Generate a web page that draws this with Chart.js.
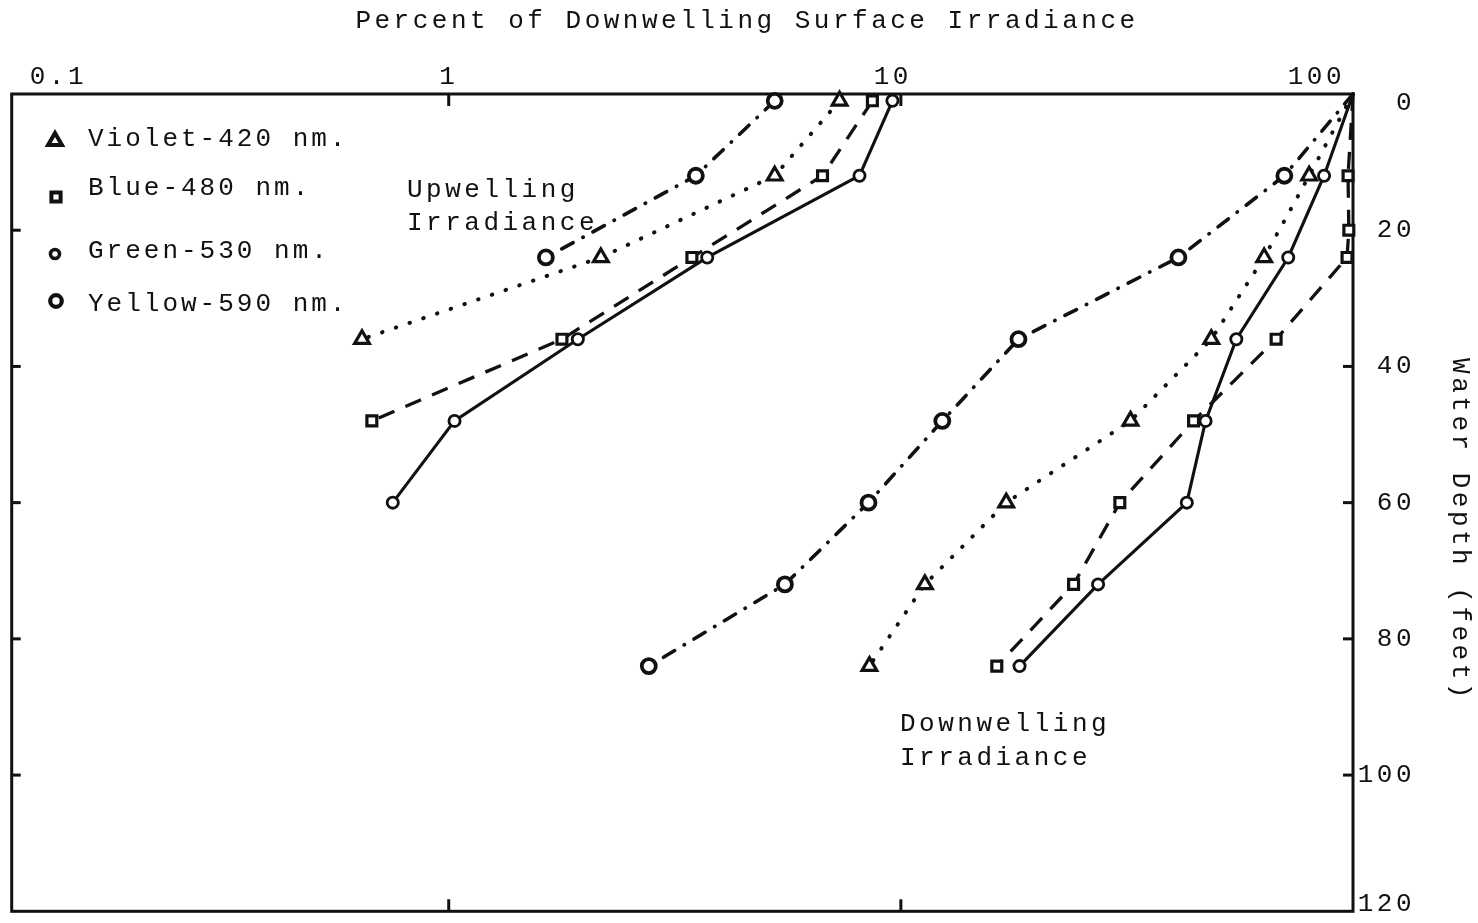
<!DOCTYPE html>
<html><head><meta charset="utf-8">
<script src="https://cdn.jsdelivr.net/npm/chart.js@4/dist/chart.umd.min.js"></script>
<style>html,body{margin:0;padding:0;background:#fff;overflow:hidden}#wrap{width:1478px;height:923px;position:relative}</style>
</head><body><div id="wrap"><canvas id="c" width="1478" height="923"></canvas></div>
<script>
// ---- data (percent of downwelling surface irradiance vs water depth in feet) ----
const upGreenDepths  = [1, 12, 24, 36, 48, 60];
const upGreen        = [9.58, 8.10, 3.73, 1.93, 1.03, 0.752];
const upBlueDepths   = [1, 12, 24, 36, 48];
const upBlue         = [8.65, 6.71, 3.45, 1.78, 0.676];
const upVioletDepths = [1, 12, 24, 36];
const upViolet       = [7.32, 5.26, 2.17, 0.643];
const upYellowDepths = [1, 12, 24];
const upYellow       = [5.26, 3.52, 1.64];

const downDepths     = [0, 12, 24, 36, 48, 60, 72, 84];
const downGreen      = [100, 86.3, 71.9, 55.2, 47.2, 42.9, 27.3, 18.3];
const downBlueDepths = [0, 12, 20, 24, 36, 48, 60, 72, 84];
const downBlue       = [100, 97.5, 97.9, 97.0, 67.6, 44.4, 30.5, 24.1, 16.3];
const downViolet     = [100, 80.0, 63.6, 48.6, 32.2, 17.1, 11.3, 8.52];
const downYellow     = [100, 70.5, 41.1, 18.2, 12.35, 8.48, 5.54, 2.77];

const xTickValues = [0.1, 1, 10, 100];
const xTickLabels = ['0.1', '1', '10', '100'];
const yTickValues = [0, 20, 40, 60, 80, 100, 120];
const legendLabels = ['Violet-420 nm.', 'Blue-480 nm.', 'Green-530 nm.', 'Yellow-590 nm.'];
const titleText = 'Percent of Downwelling Surface Irradiance';
const yTitleText = 'Water Depth (feet)';
const upNote = ['Upwelling', 'Irradiance'];
const downNote = ['Downwelling', 'Irradiance'];

// ---- styles ----
const INK = '#111';
const FONT = '26px "Liberation Mono", "DejaVu Sans Mono", monospace';
const styles = {
  violet: {pointStyle: 'triangle', r: 8.5, pbw: 3.2, dash: [0.5, 14], cap: 'round', bw: 4},
  blue:   {pointStyle: 'rect', r: 7, pbw: 3.2, dash: [17, 12], cap: 'butt', bw: 3.3},
  green:  {pointStyle: 'circle', r: 5.6, pbw: 2.8, dash: [], cap: 'butt', bw: 3.1},
  yellow: {pointStyle: 'circle', r: 7, pbw: 3.8, dash: [13, 11, 0.5, 11], cap: 'round', bw: 3.6}
};

function series(depths, values, s) {
  return {
    data: values.map((v, i) => ({x: v, y: depths[i]})),
    showLine: true,
    borderColor: INK,
    borderWidth: s.bw,
    borderDash: s.dash,
    borderCapStyle: s.cap,
    tension: 0,
    pointStyle: s.pointStyle,
    pointRadius: ctx => (ctx.raw && ctx.raw.x >= 100) ? 0 : s.r,
    pointBorderWidth: s.pbw,
    pointBorderColor: INK,
    pointBackgroundColor: '#fff',
    clip: false
  };
}

const datasets = [
  series(downDepths, downGreen, styles.green),
  series(downBlueDepths, downBlue, styles.blue),
  series(downDepths, downViolet, styles.violet),
  series(downDepths, downYellow, styles.yellow),
  series(upGreenDepths, upGreen, styles.green),
  series(upBlueDepths, upBlue, styles.blue),
  series(upVioletDepths, upViolet, styles.violet),
  series(upYellowDepths, upYellow, styles.yellow)
];

function txt(ctx, s, x, y, align) {
  ctx.textAlign = align || 'left';
  ctx.fillText(s, x, y);
}

function drawMarker(ctx, style, r, bw, x, y) {
  ctx.save();
  ctx.lineWidth = bw; ctx.strokeStyle = INK; ctx.fillStyle = '#fff';
  if (Chart.helpers && Chart.helpers.drawPoint) {
    Chart.helpers.drawPoint(ctx, {pointStyle: style, rotation: 0, borderWidth: bw, radius: r}, x, y);
  } else {
    ctx.beginPath(); ctx.arc(x, y, r, 0, Math.PI * 2); ctx.fill(); ctx.stroke();
  }
  ctx.restore();
}

const framePlugin = {
  id: 'frame',
  beforeDatasetsDraw(chart) {
    const {ctx, chartArea: a, scales} = chart;
    const xs = scales.x, ys = scales.y;
    ctx.save();
    ctx.strokeStyle = INK; ctx.lineWidth = 3; ctx.lineJoin = 'miter';
    ctx.strokeRect(a.left, a.top, a.right - a.left, a.bottom - a.top);
    ctx.lineWidth = 3;
    xTickValues.forEach(v => {
      if (v <= xs.min || v >= xs.max) return;
      const px = xs.getPixelForValue(v);
      ctx.beginPath(); ctx.moveTo(px, a.top); ctx.lineTo(px, a.top + 12); ctx.stroke();
      ctx.beginPath(); ctx.moveTo(px, a.bottom); ctx.lineTo(px, a.bottom - 12); ctx.stroke();
    });
    yTickValues.forEach(v => {
      if (v <= ys.min || v >= ys.max) return;
      const py = ys.getPixelForValue(v);
      ctx.beginPath(); ctx.moveTo(a.left, py); ctx.lineTo(a.left + 9, py); ctx.stroke();
      ctx.beginPath(); ctx.moveTo(a.right, py); ctx.lineTo(a.right - 10, py); ctx.stroke();
    });
    ctx.restore();
  },
  afterDraw(chart) {
    const {ctx, chartArea: a, scales} = chart;
    const xs = scales.x, ys = scales.y;
    ctx.save();
    ctx.fillStyle = INK;
    ctx.font = FONT;
    if ('letterSpacing' in ctx) ctx.letterSpacing = '3.5px';
    ctx.textBaseline = 'middle';
    txt(ctx, titleText, 747, 21, 'center');
    xTickValues.forEach((v, i) => {
      const lab = xTickLabels[i];
      if (i === 0) txt(ctx, lab, a.left + 18, 77, 'left');
      else if (i === xTickValues.length - 1) txt(ctx, lab, a.right - 8, 77, 'right');
      else txt(ctx, lab, xs.getPixelForValue(v) - (lab.length - 1) * 8, 77, 'center');
    });
    yTickValues.forEach((v, i) => {
      let py = ys.getPixelForValue(v);
      if (i === 0) py += 9;
      if (i === yTickValues.length - 1) py -= 7;
      txt(ctx, String(v), 1415, py, 'right');
    });
    ctx.save();
    ctx.translate(1460, 530);
    ctx.rotate(Math.PI / 2);
    txt(ctx, yTitleText, 0, 0, 'center');
    ctx.restore();
    txt(ctx, upNote[0], 407, 190, 'left');
    txt(ctx, upNote[1], 407, 223, 'left');
    txt(ctx, downNote[0], 900, 724, 'left');
    txt(ctx, downNote[1], 900, 758, 'left');
    if ('letterSpacing' in ctx) ctx.letterSpacing = '3px';
    const rowsY = [139, 188, 251, 304];
    legendLabels.forEach((lab, i) => {
      txt(ctx, lab, 88, rowsY[i], 'left');
    });
    ctx.restore();
    drawMarker(ctx, 'triangle', 8, 4, 55, 141);
    drawMarker(ctx, 'rect', 6.5, 4, 56, 197);
    drawMarker(ctx, 'circle', 4.5, 3.6, 55, 254);
    drawMarker(ctx, 'circle', 5.8, 4.2, 56, 301);
  }
};

new Chart(document.getElementById('c'), {
  type: 'scatter',
  data: {datasets},
  options: {
    responsive: false,
    animation: false,
    devicePixelRatio: 1,
    layout: {padding: {left: 8, top: 94, right: 125, bottom: 4}},
    scales: {
      x: {type: 'logarithmic', min: 0.108, max: 100, display: false},
      y: {type: 'linear', min: 0, max: 120, reverse: true, display: false}
    },
    plugins: {legend: {display: false}, tooltip: {enabled: false}, title: {display: false}}
  },
  plugins: [framePlugin]
});
</script>
</body></html>
